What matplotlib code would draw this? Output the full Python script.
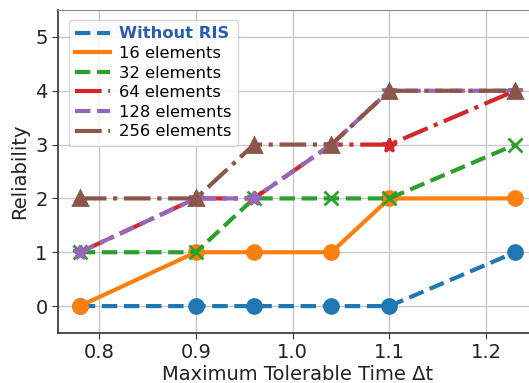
import matplotlib
matplotlib.use("Agg")
import matplotlib.pyplot as plt
from matplotlib.lines import Line2D

x = [0.78, 0.9, 0.96, 1.04, 1.1, 1.23]
labels = ["Without RIS", "16 elements", "32 elements", "64 elements", "128 elements", "256 elements"]
without_ris = [0, 0, 0, 0, 0, 1]
e16 = [0, 1, 1, 1, 2, 2]
e32 = [1, 1, 2, 2, 2, 3]
e64 = [1, 2, 2, 3, 3, 4]
e128 = [1, 2, 2, 3, 4, 4]
e256 = [2, 2, 3, 3, 4, 4]

series = [without_ris, e16, e32, e64, e128, e256]
colors = ["#1f77b4", "#ff7f0e", "#2ca02c", "#d62728", "#9467bd", "#8c564b"]
styles = ["--", "-", "--", "-.", "--", "-."]
markers = ["o", "o", "x", "*", "*", "^"]

fig = plt.figure(figsize=(5.29, 3.83), dpi=100)
ax = fig.add_axes([58/529, 1 - 333/383, (537 - 58)/529, (333 - 10)/383])
ax.set_axisbelow(True)
ax.grid(True, color="#c8c8c8", linewidth=1.0)
handles = []
for s, c, ls, m, lab in zip(series, colors, styles, markers, labels):
    ax.plot(x, s, color=c, linestyle=ls, marker=m, markersize=10,
            linewidth=3, markeredgewidth=2)
    handles.append(Line2D([], [], color=c, linestyle=ls, linewidth=3, label=lab))

ax.set_ylim(-0.5, 5.5)
ax.set_yticks([0, 1, 2, 3, 4, 5])
ax.set_xticks([0.8, 0.9, 1.0, 1.1, 1.2])
ax.tick_params(labelsize=14, length=4, color="#333333", labelcolor="#222222")
ax.set_xlabel("Maximum Tolerable Time Δt", fontsize=14, color="#222222", labelpad=2)
ax.set_ylabel("Reliability", fontsize=14, color="#222222")
for sp in ["left", "bottom"]:
    ax.spines[sp].set_color("#333333")
    ax.spines[sp].set_linewidth(1.2)
ax.spines["top"].set_color("#888888")
ax.spines["right"].set_visible(False)

leg = ax.legend(handles=handles, loc="upper left", fontsize=11.8, frameon=True,
                borderpad=0.4, labelspacing=0.28, handlelength=2.1,
                handletextpad=0.6, fancybox=True,
                bbox_to_anchor=(0.005, 0.995))
leg.get_frame().set_edgecolor("#cccccc")
t0 = leg.get_texts()[0]
t0.set_fontweight("bold")
t0.set_color("#2a5db0")

fig.savefig("out.png", dpi=100)
